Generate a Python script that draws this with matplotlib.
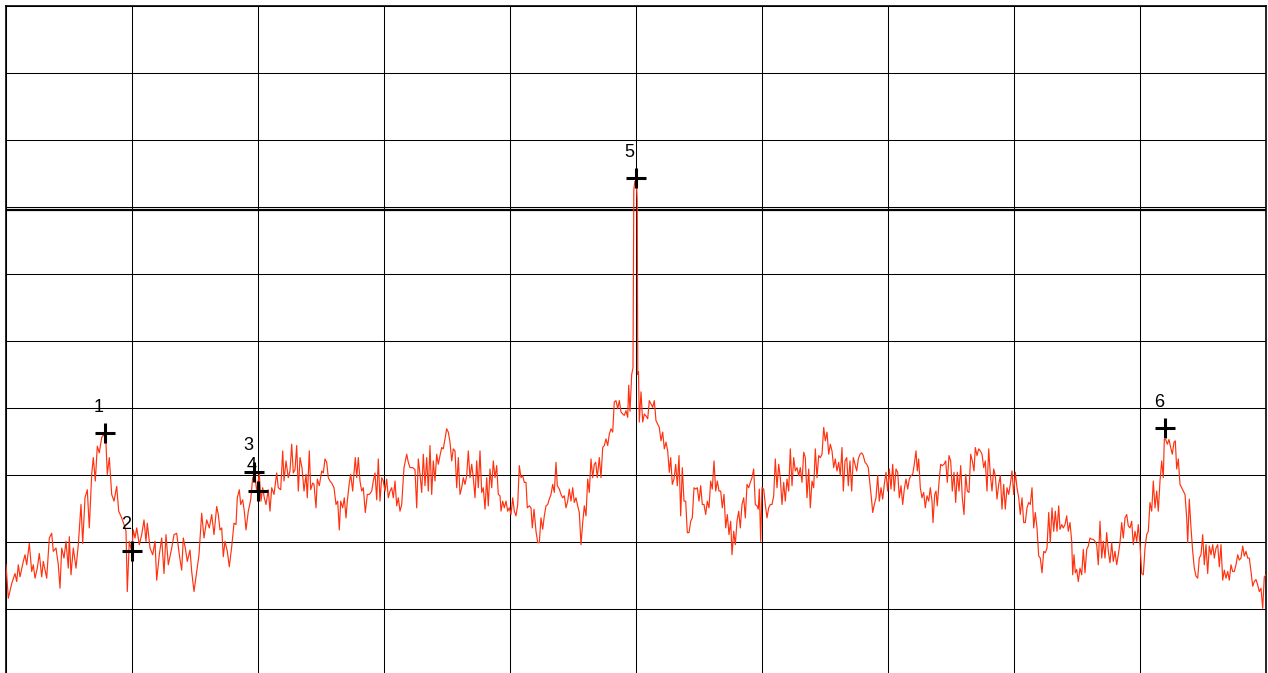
import matplotlib
matplotlib.use("Agg")
import matplotlib.pyplot as plt
import numpy as np

# Swept trace: (frequency offset in kHz, level in dBm)
trace = [
    # left skirt and marker 1 hump
    (0, -83.4), (2.3, -88.4), (5.7, -86.2), (9, -84.7), (10.7, -85.9), (12.3, -83.4), (14, -85.2),
    (17.3, -82.9), (19, -81.9), (20.7, -83.4), (23.3, -80.2), (25.7, -84.4), (27.3, -83.4), (29, -85.4),
    (31.3, -83.9), (33.3, -81.7), (35.7, -85.2), (37.3, -82.9), (40.7, -85.4), (43.3, -79.4), (45.7, -78.7),
    (47.3, -81.4), (50, -80.9), (52.3, -83.4), (54, -86.9), (55.7, -80.9), (58, -82.4), (60, -79.9),
    (62.3, -83.9), (63.3, -79.2), (65, -84.9), (67.3, -80.9), (70, -83.9), (72.3, -80.4), (75, -74.4),
    (76.7, -80.2), (79, -73.4), (81.3, -72.2), (83.3, -77.9), (85.7, -69.9), (87.3, -67.4), (89.3, -70.9),
    (91.3, -65.7), (93.3, -66.7), (95.7, -64.4), (98, -63.9), (100, -65.4), (101.3, -69.9), (103.3, -67.4),
    (105.7, -72.9), (108, -73.9), (110.7, -71.7), (112.7, -75.4), (115.7, -76.4), (118, -77.4), (120, -78.4),
    (121.3, -87.4), (123.3, -79.9), (125.7, -81.4), (127.3, -78.2), (129, -79.4), (130.7, -77.9),
    (133.3, -80.4), (135.7, -78.9), (138, -76.7), (140, -79.9), (141.3, -77.2), (144, -80.9), (146.7, -81.9),
    (149, -79.9), (150.7, -85.7), (153.3, -81.9), (155.7, -79.4), (158, -84.7), (160, -78.9), (162.3, -83.4),
    (165.7, -80.9), (168, -78.9), (170.7, -78.7), (173.3, -81.9), (175.7, -84.2), (177.3, -79.4),
    (179.3, -80.9), (181.3, -82.9), (184, -81.2), (185.7, -84.4), (188, -87.4), (190.7, -84.4), (193, -81.9),
    (195.7, -75.7), (198, -79.4), (200.7, -76.7), (203.3, -77.9), (205.7, -75.9), (208, -78.9),
    (210.7, -74.7), (212.3, -75.9),
    # rise to the plateau, markers 3 and 4
    (214, -78.2), (215.7, -77.9), (217.3, -82.2), (219, -79.9), (221.3, -81.4), (223.3, -83.7),
    (225.7, -80.7), (228, -77.2), (230, -77.4), (231.3, -73.4), (233.3, -72.2), (234.7, -74.4),
    (236.7, -73.7), (238.3, -75.4), (240, -78.2), (242.3, -75.4), (244.7, -73.7), (246.7, -70.4),
    (249, -70.2), (250.7, -72.4), (253.3, -69.9), (255, -73.9), (256.7, -71.9), (258.3, -73.4), (260, -74.4),
    (262.3, -72.2), (264, -75.4), (265.7, -71.9), (268, -72.9), (270.7, -69.7), (272.3, -71.9),
    (274.7, -72.2), (276.7, -66.4), (278, -70.9), (280, -67.9), (282.3, -70.4), (284, -69.4), (285.7, -65.4),
    (287.3, -69.7), (289, -69.2), (290.7, -65.6), (292.3, -72.4), (294, -67.4), (296, -68.9), (298, -72.4),
    (300, -69.9), (301.3, -73.4), (303.3, -66.4), (304.7, -72.2), (306.7, -71.2), (308, -71.4), (310, -74.9),
    (311.3, -70.6), (313.3, -71.6), (315.7, -69.4), (317.3, -69.7), (319, -67.6), (320.7, -68.1),
    (322.3, -70.4), (324, -70.9), (325.7, -71.2), (328, -71.9), (330, -74.4), (331.7, -73.9), (333.3, -78.2),
    (334.7, -73.9), (336.7, -74.9), (338.3, -73.4), (340, -76.4), (341.3, -73.9), (343.3, -71.2),
    (344.7, -69.9), (346.7, -72.4), (348, -69.7), (349.3, -67.4), (350.7, -70.4), (352.3, -67.4),
    (354, -70.9), (355.7, -72.4), (357.3, -71.9), (359.3, -75.6), (361.3, -72.9), (363.3, -72.9),
    (365.7, -72.4), (367.3, -70.9), (369, -69.7), (370.7, -73.7), (372.3, -67.6), (374, -73.9),
    (375.7, -70.4), (377.3, -70.9), (379, -72.4), (380.7, -70.6), (382.3, -73.4), (384, -72.4),
    (385.7, -71.9), (387.3, -73.4), (389, -70.9), (390.7, -74.6), (392.3, -73.4), (394, -75.4),
    (395.7, -74.4), (398, -68.9), (400.7, -66.9), (402.3, -68.1), (404, -68.9), (406.7, -68.9), (409, -69.2),
    (410.7, -74.9), (412.3, -67.6),
    # plateau into the carrier
    (414, -69.9), (415.7, -72.6), (417.3, -66.9), (419, -71.6), (420.7, -67.4), (422.3, -72.4), (424, -65.6),
    (425.7, -72.9), (427.3, -67.9), (429, -70.9), (430.7, -66.9), (432.3, -68.4), (434, -67.1),
    (435.7, -65.9), (437.3, -66.1), (439, -64.6), (440.7, -63.1), (442.3, -63.6), (444, -65.1),
    (445.7, -67.9), (447.3, -66.1), (449, -66.4), (450.7, -71.9), (452.3, -67.4), (454, -72.9),
    (455.7, -71.9), (457.3, -70.4), (459, -71.4), (460.7, -70.1), (462.3, -66.4), (464, -70.4),
    (465.7, -68.4), (467.3, -70.4), (469, -73.4), (470.7, -67.9), (472.3, -71.9), (474, -66.4),
    (475.7, -72.6), (477.3, -71.9), (479, -75.1), (480.7, -70.4), (482.3, -74.6), (484, -69.1),
    (485.7, -71.9), (487.3, -67.9), (489, -70.4), (490.7, -68.6), (492.3, -72.9), (494, -73.1), (495, -75.4),
    (496.7, -73.9), (498.3, -74.9), (500, -73.9), (501.7, -75.4), (503.3, -74.9), (505, -75.9),
    (506.7, -73.4), (508.3, -75.4), (510, -76.1), (511.7, -74.4), (513.3, -68.6), (515, -70.4),
    (516.7, -70.1), (518.3, -71.1), (520, -71.1), (521.3, -74.9), (523.3, -74.6), (525, -74.9),
    (526.3, -77.9), (528, -75.1), (530, -78.4), (531.7, -80.1), (533.3, -80.1), (535, -76.4), (536.7, -78.1),
    (538.3, -76.1), (540, -74.6), (541.7, -74.4), (543.3, -73.6), (545, -72.9), (546.7, -71.4),
    (548.3, -72.6), (550, -68.1), (551.3, -71.6), (553.3, -72.1), (555, -72.9), (556.7, -73.4),
    (558.3, -73.1), (560, -74.9), (561.7, -73.9), (563.3, -72.1), (565, -73.9), (566.7, -71.9),
    (568.3, -74.1), (570, -73.4), (571.7, -74.6), (573.3, -75.6), (575, -80.4), (576.7, -77.1),
    (578.3, -74.6), (580, -76.1), (581.7, -70.6), (583.3, -72.6), (585, -67.6), (586.7, -70.4),
    (588.3, -68.4), (589.7, -68.1), (591.3, -70.4), (593.3, -67.4), (595, -70.4), (596.7, -65.9),
    (598.3, -65.6), (600, -64.6), (601.7, -65.6), (603.3, -63.9), (605, -63.1), (606.7, -63.6),
    (608.3, -59.1), (610, -58.9), (611.7, -60.1), (613.3, -58.9), (615, -60.6), (616.7, -60.9),
    (618.3, -61.1), (620, -60.4), (621.7, -61.4), (622.7, -56.6), (624, -60.5), (625.7, -55.0), (627, -54.0),
    # carrier
    (627.8, -27.5), (628.8, -26.2), (629.6, -26.2), (630.4, -26.4), (631.2, -29.0), (631.8, -55.0),
    (632.5, -54.6),
    # right side of the carrier and plateau
    (633.3, -62.1), (635, -57.6), (636.7, -62.1), (638.3, -60.9), (640, -61.2), (641.7, -61.6),
    (643.3, -58.9), (645, -59.4), (646.7, -59.9), (648.3, -58.9), (650, -61.9), (651.7, -62.4),
    (653.3, -62.9), (655, -64.9), (656.7, -63.6), (658.3, -66.1), (660, -65.1), (661.7, -66.4),
    (663.3, -69.6), (664.7, -67.4), (666.3, -71.4), (668, -70.6), (669.7, -68.4), (671.3, -71.6),
    (673, -67.1), (674.7, -76.1), (676.3, -68.9), (678, -73.9), (679.7, -73.9), (681.3, -78.6), (683, -78.6),
    (684.7, -76.9), (686.3, -76.4), (688, -71.9), (689.7, -72.1), (691.3, -71.9), (693, -73.9),
    (694.7, -71.6), (696.3, -74.4), (698, -74.4), (699.7, -75.9), (701.3, -73.9), (703, -74.9),
    (704.7, -70.9), (706.3, -72.1), (708, -67.9), (709.7, -72.4), (711.3, -70.9), (713, -72.4),
    (714.7, -72.4), (716.3, -74.9), (718, -72.9), (719.7, -77.9), (721.3, -75.9), (723, -78.9),
    (724.7, -76.9), (726, -81.9), (727.7, -78.4), (729.3, -80.4), (731, -76.9), (732.7, -75.4),
    (734.3, -77.9), (736, -74.4), (737.7, -73.4), (739.3, -76.4), (741, -71.4), (742.7, -71.9),
    (744.3, -71.1), (746, -70.4), (747.7, -69.1), (749.3, -74.4), (751, -74.6), (752.3, -75.1),
    (753.3, -72.1), (754.7, -79.9), (756, -71.9), (757.7, -72.1), (759.3, -74.4), (761, -76.4),
    (762.7, -74.9), (764.3, -74.4), (766, -74.4), (767.7, -73.1), (769.3, -67.6), (771, -71.9),
    (772.7, -68.4), (774.3, -70.4), (776, -74.4), (777.7, -71.1), (779.3, -73.9), (781, -70.6),
    (782.7, -72.4), (784.3, -66.1), (786, -71.6), (787.7, -67.4), (789.3, -69.4), (791, -68.9),
    (792.7, -70.1), (794.3, -68.9), (796, -71.1), (797.7, -66.6), (799.3, -67.4), (801, -73.4),
    (802.7, -69.1), (804.3, -74.9), (806, -70.9), (807.7, -71.9), (809.3, -66.1), (811, -70.4),
    (812.7, -67.1), (814.3, -67.4), (816, -66.9), (817.7, -62.9), (819.3, -64.9), (821, -63.6),
    (822.7, -66.9), (824.3, -65.4), (826, -66.4), (827.7, -68.9), (829.3, -67.6), (831, -69.4),
    (832.7, -68.1), (834.3, -70.1), (836, -65.9), (837.3, -72.4), (839, -67.9), (840.7, -67.4),
    (842.3, -71.6), (844, -67.9),
    (845.7, -72.4), (847.3, -67.4), (849, -68.4), (850.7, -69.4), (852.3, -67.6), (854, -66.9),
    (855.7, -66.7), (857.3, -67.1), (859, -68.1), (860.7, -68.4), (862.3, -68.9), (864, -71.4),
    (865.7, -73.9), (866.7, -75.6), (868.3, -74.4), (870, -73.4), (871.7, -70.1), (873.3, -73.9),
    (875, -71.9), (876.7, -73.6), (878.3, -71.4), (880, -69.6), (881.7, -72.4), (883.3, -69.1), (885, -72.1),
    (886.7, -68.4), (888.3, -72.4), (890, -69.1), (891.7, -69.6), (893.3, -73.4), (895, -71.6),
    (896.7, -74.4), (898.3, -72.1), (900, -70.6), (901.7, -72.1), (903.3, -70.6), (905, -70.1),
    (906.7, -69.9), (908.3, -68.4), (910, -66.4), (911.3, -69.4), (912.7, -67.6), (914.3, -71.9),
    (916, -73.4), (917.7, -72.6), (919.3, -74.9), (921, -73.1), (922.7, -73.9), (924.3, -71.9), (926, -73.9),
    (927, -77.1), (928.7, -72.9), (930, -72.4), (931.3, -74.6), (933, -71.1), (934.7, -68.4), (936.3, -68.6),
    (938, -68.4), (939.7, -67.9), (941.3, -71.1), (943, -67.1), (944.7, -67.9), (946.3, -72.4), (948, -69.6),
    (949.7, -74.1), (951.3, -69.6), (953, -72.4), (954.7, -68.6), (956.3, -73.4), (958, -75.9),
    (959.7, -69.9), (961.3, -72.4), (963, -72.6), (964.7, -66.9), (966.3, -67.9), (968, -69.4),
    (969.3, -65.9), (971, -67.1), (972.7, -66.1), (974.3, -66.4), (976, -66.9), (977.7, -68.9),
    (979.3, -67.9), (981, -72.4), (982.7, -66.1), (984.3, -69.9), (986, -72.4), (987.7, -69.1),
    (989.3, -70.1), (991, -73.6), (992.7, -71.4), (994.3, -70.1), (996, -75.1), (997.7, -71.4),
    (999.3, -75.1), (1001, -71.9), (1002.7, -72.9), (1004.3, -71.4), (1006, -69.4), (1007.7, -72.9),
    (1009.3, -69.6), (1011, -71.9), (1012.7, -73.4), (1014.3, -75.9), (1016, -73.4), (1017.7, -77.1),
    (1019.3, -77.1), (1021, -74.9), (1022.7, -74.1), (1024.3, -74.4), (1026, -71.9), (1027.7, -77.9),
    (1029.3, -75.6), (1031, -77.9), (1032.7, -82.1), (1034.3, -82.4), (1036, -84.6), (1037.7, -81.4),
    (1039.3, -81.6), (1041, -80.9), (1042.7, -75.6), (1044.3, -80.1), (1046, -74.9), (1047.7, -78.4),
    (1049.3, -75.4), (1051, -78.4), (1052.7, -74.6),
    # marker 6 hump and right skirt
    (1054, -78.1), (1055.7, -77.4), (1057.3, -77.9), (1059, -77.4), (1060.7, -76.1), (1062.3, -78.4),
    (1064, -77.1), (1065.7, -79.9), (1066.7, -84.9), (1068, -81.9), (1069.3, -84.6), (1070.7, -84.1),
    (1072.3, -85.9), (1074, -83.9), (1075.7, -84.9), (1077.3, -81.1), (1079, -84.6), (1080.7, -81.1),
    (1082.3, -80.6), (1084, -79.4), (1085.7, -79.6), (1087.3, -79.6), (1089, -79.9), (1090.7, -80.4),
    (1092.3, -83.4), (1094, -76.9), (1095.7, -82.4), (1097.3, -79.9), (1099, -82.4), (1100.7, -78.6),
    (1102.3, -81.4), (1104, -83.1), (1105.7, -80.1), (1107.3, -82.9), (1109, -81.4), (1110.7, -83.4),
    (1112.3, -81.9), (1114, -80.1), (1115.7, -77.1), (1117.3, -79.4), (1119, -76.4), (1120.7, -75.9),
    (1122.3, -77.6), (1124, -77.9), (1125.7, -76.9), (1127.3, -80.4), (1129, -78.4), (1130.7, -79.9),
    (1132.3, -77.4), (1134, -80.4), (1135.7, -84.7), (1137.3, -84.9), (1139, -80.9), (1140.7, -78.9),
    (1142.3, -78.4), (1144, -74.1), (1145.7, -75.4), (1147.3, -70.9), (1149, -74.9), (1150.7, -72.4),
    (1152.3, -75.4), (1154, -70.9), (1155.7, -67.9), (1157.3, -70.4), (1158.3, -64.7), (1159.7, -64.7),
    (1161.3, -65.4), (1163, -64.7), (1164.7, -65.9), (1166.3, -66.9), (1168, -65.1), (1169.3, -64.9),
    (1170.7, -69.1), (1172.3, -67.6), (1174, -71.4), (1175.7, -71.9), (1177.3, -72.4), (1179, -72.9),
    (1180.7, -76.4), (1181.7, -80.1), (1183.3, -73.6), (1185, -77.9), (1186.7, -81.4), (1188.3, -83.9),
    (1190, -85.1), (1191.7, -85.4), (1193.3, -82.4), (1195, -81.9), (1196.7, -78.9), (1198.3, -83.4),
    (1200, -80.4), (1201.7, -84.7), (1203.3, -80.6), (1205, -81.9), (1206.7, -80.4), (1208.3, -82.4),
    (1210, -80.9), (1211.7, -80.4), (1213.3, -83.7), (1215, -80.4), (1216.7, -85.7), (1218.3, -84.2),
    (1220, -85.4), (1221.7, -84.4), (1223.3, -85.7), (1225, -83.4), (1226.7, -84.4), (1228.3, -84.4),
    (1230, -83.4), (1231.7, -81.9), (1233.3, -82.7), (1235, -82.4), (1236.7, -80.6), (1238.3, -82.1),
    (1240, -81.4), (1241.7, -82.4), (1243.3, -82.4), (1245, -84.4), (1246.7, -86.6), (1248.3, -85.9),
    (1250, -85.6), (1251.7, -86.4), (1253.3, -87.4), (1255, -86.9), (1256.7, -89.9), (1258.3, -85.2),
    (1260, -84.9),
]

# peak markers
marker_ids = ["1", "2", "3", "4", "5", "6"]
marker_freq = [99, 126.3, 248.3, 251.7, 629.7, 1159]
marker_level = [-63.8, -81.3, -69.5, -72.4, -25.7, -63.0]

display_line = -30.5
span = (0, 1260)
level_range = (-100, 0)

freq, level = np.array(trace).T

fig = plt.figure(figsize=(12.68, 6.73), dpi=100)
ax = fig.add_axes([6 / 1268, -3 / 673, 1260 / 1268, 670 / 673])
ax.set_xlim(*span)
ax.set_ylim(*level_range)

# 10 x 10 graticule
ax.set_xticks(np.linspace(span[0], span[1], 11))
ax.set_yticks(np.linspace(level_range[0], level_range[1], 11))
ax.grid(True, color="black", linewidth=0.75)
ax.tick_params(length=0, labelbottom=False, labelleft=False)
for sp in ax.spines.values():
    sp.set_linewidth(1.2)

ax.axhline(display_line, color="black", linewidth=1.6, zorder=3)
ax.plot(freq, level, color="#ff3210", linewidth=0.85, zorder=4)

ax.plot(marker_freq, marker_level, linestyle="none", marker="+", markersize=14,
        markeredgewidth=2.2, color="black", zorder=5)
for mid, mf, ml in zip(marker_ids, marker_freq, marker_level):
    ax.annotate(mid, (mf, ml), xytext=(-4.3, 18.7), textcoords="offset points",
                ha="center", va="center", fontsize=13, family="Liberation Sans", zorder=6)

fig.savefig("out.png", dpi=100)
